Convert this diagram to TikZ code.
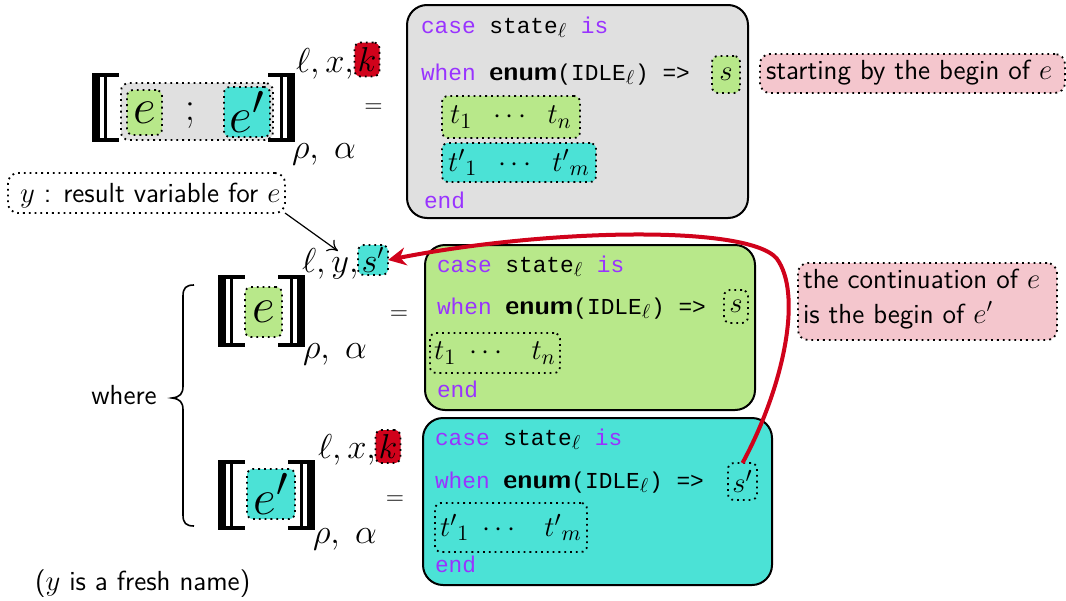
\documentclass[tikz,border=0pt]{standalone}
\usepackage[no-math]{fontspec}
\setmonofont{Liberation Mono}
\usetikzlibrary{arrows.meta,fit}
\definecolor{boxgray}{RGB}{224,224,224}
\definecolor{mgreen}{RGB}{184,232,138}
\definecolor{mcyan}{RGB}{75,226,214}
\definecolor{mpink}{RGB}{244,198,205}
\definecolor{kred}{RGB}{208,2,27}
\definecolor{kwpurple}{RGB}{153,51,255}
\newcommand\cfont{\fontsize{11.4}{13.6}\selectfont\ttfamily}
\newcommand\tfont{\fontsize{13.8}{16.5}\selectfont\sffamily}
\newcommand\kwd[1]{\textcolor{kwpurple}{#1}}
\newcommand\enm{{\fontsize{13.6}{16}\selectfont\sffamily\bfseries enum}}
\newcommand\sub{{\fontsize{14}{16}\selectfont$_\ell$}}
\newcommand\tmath{\fontsize{15}{18}\selectfont}
\newcommand\ssz{\fontsize{16}{19}\selectfont}
\newcommand\bigsz{\fontsize{30}{34}\selectfont}
\newcommand\LBr[3]{%
 \fill (#1,#2) rectangle ({#1+8},#3);
 \fill ({#1+12},#2) rectangle ({#1+15},#3);
 \fill (#1,#2) rectangle ({#1+27},{#2+4});
 \fill (#1,{#3-4}) rectangle ({#1+27},#3);}
\newcommand\RBr[3]{%
 \fill ({#1-8},#2) rectangle (#1,#3);
 \fill ({#1-15},#2) rectangle ({#1-12},#3);
 \fill ({#1-27},#2) rectangle (#1,{#2+4});
 \fill ({#1-27},{#3-4}) rectangle (#1,#3);}
\tikzset{
 codebox/.style={draw=black, line width=1pt, rounded corners=10pt, inner sep=0pt},
 dotbox/.style={draw=black, dotted, line width=0.9pt, rounded corners=3pt, inner sep=0pt},
 note/.style={dotbox, fill=mpink, rounded corners=5pt},
 redarrow/.style={draw=kred, line width=2pt, -{Stealth[length=9pt,width=9pt]}},
 thinarrow/.style={draw=black, line width=0.6pt, -{To[length=5pt,width=7pt]}},
 codeline/.style={anchor=base west, font=\cfont},
 txt/.style={font=\tfont},
}
\begin{document}
\begin{tikzpicture}[x=0.5pt,y=-0.5pt, every node/.style={inner sep=0pt,outer sep=0pt}]
\useasboundingbox (0,0) rectangle (1066,600);
% ---------- top formula ----------
\node[dotbox, fill=boxgray, rounded corners=4pt, fit={(121,83) (273,140)}] (seqT) {};
\LBr{92}{73}{142}
\RBr{295}{73}{142}
\node[dotbox, fill=mgreen, minimum width=17.5pt, minimum height=22.5pt] (eT) at (144.5,112.5) {\bigsz$e$};
\node (semT) at (190,116) {\fontsize{20}{24}\selectfont$;$};
\node[dotbox, fill=mcyan, minimum width=23pt, minimum height=25pt] (epT) at (247,112) {\bigsz$e'$};
\node[anchor=base west] (supT) at (296,72) {\ssz$\ell, x,$};
\node[dotbox, fill=kred, minimum width=12.5pt, minimum height=17pt] (kT) at (367,59.5) {\ssz$k$};
\node[anchor=base west] (subT) at (292,158) {\ssz$\rho,\ \alpha$};
\node (eqT) at (373.5,108) {\fontsize{12}{14}\selectfont$=$};
% ---------- top code box ----------
\node[codebox, fill=boxgray, fit={(407,5) (748,218)}] (boxT) {};
\node[codeline] (cT1) at (421,33) {\kwd{case} state\sub\ \kwd{is}};
\node[codeline] (cT2) at (421,80) {\kwd{when} \enm(IDLE\sub) =>};
\node[dotbox, fill=mgreen, minimum width=14pt, minimum height=18.5pt] (sT) at (726,74.5) {\tmath$s$};
\node[dotbox, fill=mgreen, minimum width=69pt, minimum height=21pt] (tT) at (511,117) {\tmath$t_1\;\;\cdots\;\;t_n$};
\node[dotbox, fill=mcyan, minimum width=77pt, minimum height=19.5pt] (tpT) at (519,162.5) {\tmath${t'}_1\;\;\cdots\;\;{t'}_m$};
\node[codeline] (cT3) at (424,208) {\kwd{end}};
\node[note, fit={(760,54) (1065,93)}] (n1) {};
\node[txt, anchor=base west] (n1t) at (766,79) {starting by the begin of $e$};
% ---------- y annotation ----------
\node[dotbox, fill=white, rounded corners=5pt, fit={(8,173) (285,213)}] (yBox) {};
\node[txt, anchor=base west] (yTxt) at (20,202) {$y$ : result variable for $e$};
\coordinate (yTip) at (338,251);
\draw[thinarrow] (yBox.south east) -- (yTip);
% ---------- middle formula ----------
\LBr{218}{275}{347}
\RBr{305}{275}{347}
\node[dotbox, fill=mgreen, minimum width=18.5pt, minimum height=25pt] (eM) at (263.5,312) {\bigsz$e$};
\node[anchor=base west] (supM) at (302,272) {\ssz$\ell, y,$};
\node[dotbox, fill=mcyan, minimum width=15pt, minimum height=15pt] (sMF) at (373,260) {\ssz$s'$};
\node[anchor=base west] (subM) at (303,358) {\ssz$\rho,\ \alpha$};
\node (eqM) at (399,315) {\fontsize{12}{14}\selectfont$=$};
% ---------- middle code box ----------
\node[codebox, fill=mgreen, fit={(425,245) (755,410)}] (boxM) {};
\node[codeline] (cM1) at (437,272) {\kwd{case} state\sub\ \kwd{is}};
\node[codeline] (cM2) at (437,314) {\kwd{when} \enm(IDLE\sub) =>};
\node[dotbox, minimum width=12pt, minimum height=16.5pt] (sM) at (736,306.5) {\tmath$s$};
\node[dotbox, minimum width=65pt, minimum height=20pt] (tM) at (495,353) {\tmath$t_1\;\cdots\;\;\;t_n$};
\node[codeline] (cM3) at (437,397) {\kwd{end}};
\node[note, fit={(798,263) (1057,340)}] (n2) {};
\node[txt, anchor=base west] (n2a) at (803,288) {the continuation of $e$};
\node[txt, anchor=base west] (n2b) at (803,323) {is the begin of $e'$};
% ---------- bottom formula ----------
\LBr{218}{460}{530}
\RBr{315}{460}{530}
\node[dotbox, fill=mcyan, minimum width=24pt, minimum height=25pt] (eB) at (271,494) {\bigsz$e'$};
\node[anchor=base west] (supB) at (318,458) {\ssz$\ell, x,$};
\node[dotbox, fill=kred, minimum width=12.5pt, minimum height=16.5pt] (kB) at (388,446.5) {\ssz$k$};
\node[anchor=base west] (subB) at (313,543) {\ssz$\rho,\ \alpha$};
\node (eqB) at (395,500) {\fontsize{12}{14}\selectfont$=$};
% ---------- bottom code box ----------
\node[codebox, fill=mcyan, fit={(423,418) (772,585)}] (boxB) {};
\node[codeline] (cB1) at (435,445) {\kwd{case} state\sub\ \kwd{is}};
\node[codeline] (cB2) at (435,488) {\kwd{when} \enm(IDLE\sub) =>};
\node[dotbox, minimum width=14.5pt, minimum height=18.5pt] (sB) at (742.5,481.5) {\tmath$s'$};
\node[dotbox, minimum width=76pt, minimum height=24.5pt] (tB) at (511,527.5) {\tmath${t'}_1\;\cdots\;\;\;{t'}_m$};
\node[codeline] (cB3) at (435,572) {\kwd{end}};
% ---------- brace, where ----------
\draw[line width=0.8pt] (194,285) .. controls (186,285) and (183,288) .. (183,296)
  -- (183,386) .. controls (183,394) and (180,397) .. (172,398)
  .. controls (180,399) and (183,402) .. (183,410)
  -- (183,515) .. controls (183,523) and (186,526) .. (194,526);
\node[txt, anchor=base] (where) at (124,404) {where};
\node[txt, anchor=base west] (fresh) at (35,590) {($y$ is a fresh name)};
% ---------- red arrow ----------
\draw[redarrow] (sB.north) .. controls (782,390) and (802,300) .. (779,262)
  .. controls (761,224) and (550,228) .. (sMF.east);
\end{tikzpicture}
\end{document}
